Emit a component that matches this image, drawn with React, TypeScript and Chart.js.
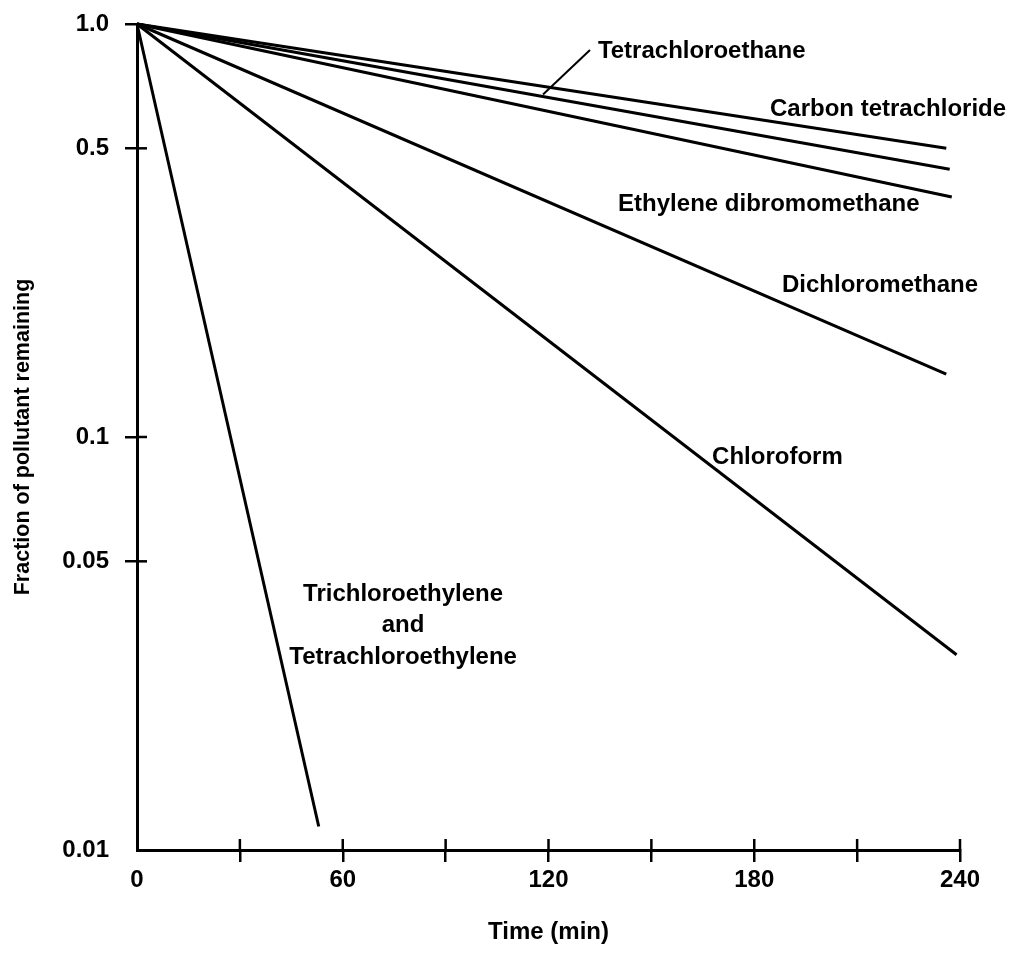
import React, { useEffect, useRef } from "react";
import { Chart, registerables } from "chart.js";

Chart.register(...registerables);

// ---- data ----
const seriesNames = [
  "Carbon tetrachloride",
  "Tetrachloroethane",
  "Ethylene dibromomethane",
  "Dichloromethane",
  "Chloroform",
  "Trichloroethylene and Tetrachloroethylene",
];
const startTimes = [0, 0, 0, 0, 0, 0];
const startFractions = [1.0, 1.0, 1.0, 1.0, 1.0, 1.0];
const endTimes = [236, 237, 237.6, 236, 239, 53];
const endFractions = [0.5, 0.445, 0.381, 0.142, 0.0297, 0.0114];

const xTickValues = [0, 30, 60, 90, 120, 150, 180, 210, 240];
const xLabelledTicks = [0, 60, 120, 180, 240];
const yTickValues = [0.01, 0.05, 0.1, 0.5, 1.0];
const yTickLabels = ["0.01", "0.05", "0.1", "0.5", "1.0"];

// curve label texts, anchored in data space (minutes, fraction)
const labelTexts = [
  ["Tetrachloroethane"],
  ["Carbon tetrachloride"],
  ["Ethylene dibromomethane"],
  ["Dichloromethane"],
  ["Chloroform"],
  ["Trichloroethylene", "and", "Tetrachloroethylene"],
];
const labelTimes = [134.4, 184.6, 140.3, 188.1, 167.7, 77.6];
const labelFractions = [0.86, 0.623, 0.365, 0.2325, 0.0894, 0.0416];
const labelAligns = ["left", "left", "left", "left", "left", "center"];

const leaderTimes = [132.1, 118.4];
const leaderFractions = [0.865, 0.675];

const FONT = "'Liberation Sans', Arial, Helvetica, sans-serif";

const annotationPlugin = {
  id: "annotations",
  afterDraw(chart: any) {
    const { ctx, chartArea } = chart;
    const xs = chart.scales.x;
    const ys = chart.scales.y;
    ctx.save();
    ctx.strokeStyle = "#000";
    // inner halves of the tick marks (crossing the axes)
    ctx.lineWidth = 2.5;
    xs.ticks.forEach((t: any) => {
      if (t.value === 0) return;
      const px = xs.getPixelForValue(t.value);
      ctx.beginPath();
      ctx.moveTo(px, chartArea.bottom);
      ctx.lineTo(px, chartArea.bottom - 11);
      ctx.stroke();
    });
    ys.ticks.forEach((t: any) => {
      if (t.value === 0.01 || t.value === 1) return;
      const py = ys.getPixelForValue(t.value);
      ctx.beginPath();
      ctx.moveTo(chartArea.left, py);
      ctx.lineTo(chartArea.left + 10, py);
      ctx.stroke();
    });
    // leader line
    ctx.lineWidth = 2;
    ctx.beginPath();
    ctx.moveTo(xs.getPixelForValue(leaderTimes[0]), ys.getPixelForValue(leaderFractions[0]));
    ctx.lineTo(xs.getPixelForValue(leaderTimes[1]), ys.getPixelForValue(leaderFractions[1]));
    ctx.stroke();
    // labels
    ctx.fillStyle = "#000";
    ctx.font = `bold 24px ${FONT}`;
    ctx.textBaseline = "middle";
    labelTexts.forEach((lines, i) => {
      const px = xs.getPixelForValue(labelTimes[i]);
      const py = ys.getPixelForValue(labelFractions[i]);
      ctx.textAlign = labelAligns[i] as CanvasTextAlign;
      lines.forEach((line, j) => {
        ctx.fillText(line, px, py + j * 31.5);
      });
    });
    ctx.restore();
  },
};

export default function App() {
  const canvasRef = useRef<HTMLCanvasElement | null>(null);

  useEffect(() => {
    if (!canvasRef.current) return;
    const datasets = seriesNames.map((name, i) => ({
      label: name,
      data: [
        { x: startTimes[i], y: startFractions[i] },
        { x: endTimes[i], y: endFractions[i] },
      ],
      borderColor: "#000",
      backgroundColor: "#000",
      borderWidth: 3,
      pointRadius: 0,
      fill: false,
      tension: 0,
      clip: false as any,
    }));

    const chart = new Chart(canvasRef.current, {
      type: "line",
      data: { datasets },
      plugins: [annotationPlugin],
      options: {
        animation: false,
        responsive: true,
        maintainAspectRatio: false,
        layout: { padding: { left: 0, top: 24, right: 52, bottom: 0 } },
        plugins: {
          legend: { display: false },
          tooltip: { enabled: false },
        },
        scales: {
          x: {
            type: "linear",
            min: 0,
            max: 240,
            afterBuildTicks: (scale: any) => {
              scale.ticks = xTickValues.map((v) => ({ value: v }));
            },
            afterFit: (scale: any) => {
              scale.height = 104;
            },
            ticks: {
              autoSkip: false,
              maxRotation: 0,
              padding: 4,
              color: "#000",
              font: { family: FONT, size: 24, weight: "bold" },
              callback: (v: any) => (xLabelledTicks.includes(Number(v)) ? String(v) : ""),
            },
            grid: {
              drawOnChartArea: false,
              drawTicks: true,
              tickLength: 12,
              lineWidth: 2.5,
              color: (ctx: any) => (ctx.tick && ctx.tick.value === 0 ? "rgba(0,0,0,0)" : "#000"),
            },
            border: { display: true, color: "#000", width: 3 },
            title: {
              display: true,
              text: "Time (min)",
              color: "#000",
              font: { family: FONT, size: 24, weight: "bold" },
              padding: { top: 0, bottom: 7 },
            },
          },
          y: {
            type: "logarithmic",
            min: 0.01,
            max: 1.0,
            afterBuildTicks: (scale: any) => {
              scale.ticks = yTickValues.map((v) => ({ value: v }));
            },
            afterFit: (scale: any) => {
              scale.width = 137;
              scale.paddingTop = 0;
              scale.paddingBottom = 0;
            },
            ticks: {
              autoSkip: false,
              padding: 16,
              color: "#000",
              font: { family: FONT, size: 24, weight: "bold" },
              callback: (v: any) => {
                const idx = yTickValues.findIndex((t) => Math.abs(t - Number(v)) < 1e-9);
                return idx >= 0 ? yTickLabels[idx] : "";
              },
            },
            grid: {
              drawOnChartArea: false,
              drawTicks: true,
              tickLength: 12,
              lineWidth: 2.5,
              color: (ctx: any) => (ctx.tick && ctx.tick.value === 0.01 ? "rgba(0,0,0,0)" : "#000"),
            },
            border: { display: true, color: "#000", width: 3 },
            title: {
              display: true,
              text: "Fraction of pollutant remaining",
              color: "#000",
              font: { family: FONT, size: 21.5, weight: "bold" },
              padding: { top: 10, bottom: 0 },
            },
          },
        },
      },
    });
    return () => chart.destroy();
  }, []);

  return (
    <div style={{ position: "fixed", left: 0, top: 0, width: 1012, height: 954, background: "#fff" }}>
      <canvas ref={canvasRef} />
    </div>
  );
}
